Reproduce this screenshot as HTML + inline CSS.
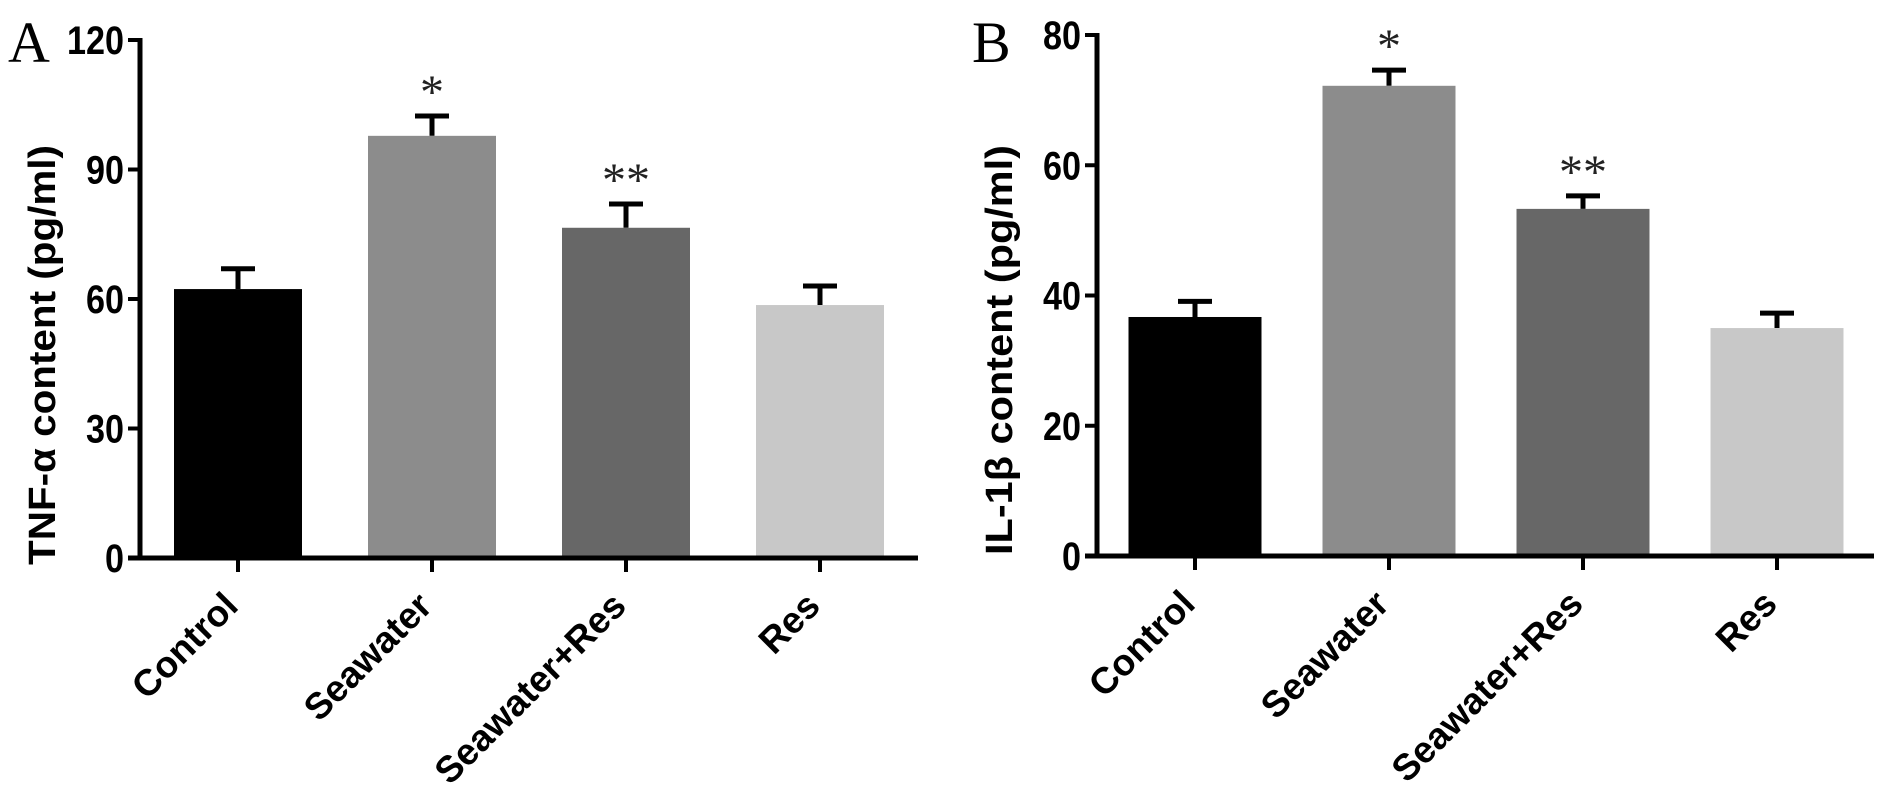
<!DOCTYPE html>
<html><head><meta charset="utf-8"><style>
html,body{margin:0;padding:0;background:#fff;}
svg{display:block;}
</style></head><body>
<svg id="chart" width="1890" height="801" viewBox="0 0 1890 801" xmlns="http://www.w3.org/2000/svg" font-family="Liberation Sans, Arial, sans-serif"></svg>
<script>
const categories = ["Control","Seawater","Seawater+Res","Res"];
const tnfValues = [62.3, 97.8, 76.5, 58.6];
const tnfErrors = [4.7, 4.6, 5.5, 4.4];
const tnfStars = ["", "*", "**", ""];
const tnfTicks = [0,30,60,90,120];
const ilValues = [36.7, 72.2, 53.3, 35.0];
const ilErrors = [2.4, 2.4, 2.0, 2.3];
const ilStars = ["", "*", "**", ""];
const ilTicks = [0,20,40,60,80];
const barColors = ["#000000","#8c8c8c","#676767","#c8c8c8"];

const NS="http://www.w3.org/2000/svg";
const svg=document.getElementById('chart');
function mk(tag,attrs,parent){const e=document.createElementNS(NS,tag);for(const k in attrs)e.setAttribute(k,attrs[k]);(parent||svg).appendChild(e);return e;}

function panel(cfg){
  const g=mk('g',{});
  
  
  const y=v=>cfg.y0-(v/cfg.max)*(cfg.y0-cfg.yTop);
  const x=i=>cfg.firstCenter+i*cfg.step;
  cfg.values.forEach((v,i)=>{
    const eb=mk('line',{x1:x(i),x2:x(i),y1:y(v),y2:y(v+cfg.errors[i]),stroke:'#000','stroke-width':5},g);
    
    
    const cap=mk('line',{x1:x(i)-17,x2:x(i)+17,y1:y(v+cfg.errors[i]),y2:y(v+cfg.errors[i]),stroke:'#000','stroke-width':5},g);
    
    
    const r=mk('rect',{x:x(i)-cfg.bw/2,y:y(v),width:cfg.bw,height:cfg.y0-y(v),fill:barColors[i]},g);
    
    
    if(cfg.stars[i]){
      const s=mk('text',{x:x(i),y:y(v+cfg.errors[i])-8,'text-anchor':'middle','font-size':48,fill:'#222','font-family':'Liberation Serif, serif'},g);
      s.textContent=cfg.stars[i];
      
      
    }
    const t=mk('line',{x1:x(i),x2:x(i),y1:cfg.y0,y2:cfg.y0+14,stroke:'#000','stroke-width':4},g);
    
    
    const lb=mk('text',{x:0,y:0,'text-anchor':'end','font-size':37,'font-weight':'bold',transform:`translate(${x(i)+2},${cfg.y0+50}) rotate(-45)`},g);
    lb.textContent=categories[i];
    
    
  });
  const ya=mk('line',{x1:cfg.ax,x2:cfg.ax,y1:cfg.yTop-2,y2:cfg.y0+2,stroke:'#000','stroke-width':5},g);
  
  
  const xa=mk('line',{x1:cfg.ax-12,x2:cfg.axEnd,y1:cfg.y0,y2:cfg.y0,stroke:'#000','stroke-width':5},g);
  
  
  cfg.ticks.forEach(tv=>{
    const tl=mk('line',{x1:cfg.ax-12,x2:cfg.ax,y1:y(tv),y2:y(tv),stroke:'#000','stroke-width':4},g);
    
    
    const tt=mk('text',{x:cfg.ax-16,y:y(tv)+14,'text-anchor':'end','font-size':40,'font-weight':'bold',textLength:String(tv).length*19,lengthAdjust:'spacingAndGlyphs'},g);
    tt.textContent=tv;
    
    
  });
  const yt=mk('text',{x:0,y:0,'text-anchor':'middle','font-size':38,'font-weight':'bold',textLength:cfg.titleLen,lengthAdjust:'spacingAndGlyphs',transform:`translate(${cfg.titleX},${cfg.titleY}) rotate(-90)`},g);
  yt.textContent=cfg.title;
  
  
  const pl=mk('text',{x:cfg.letterX,y:62,'font-size':58,'font-family':'Liberation Serif, serif'},g);
  pl.textContent=cfg.letter;
  
  
}

panel({name:'panel-a-tnf',values:tnfValues,errors:tnfErrors,stars:tnfStars,ticks:tnfTicks,max:120,
  y0:558,yTop:40,ax:140,axEnd:918,firstCenter:238,step:194,bw:128,
  title:'TNF-α content (pg/ml)',titleX:55,titleY:355,titleLen:420,letter:'A',letterX:8});
panel({name:'panel-b-il1b',values:ilValues,errors:ilErrors,stars:ilStars,ticks:ilTicks,max:80,
  y0:556,yTop:35,ax:1097,axEnd:1874,firstCenter:1195,step:194,bw:133,
  title:'IL-1β content (pg/ml)',titleX:1012,titleY:350,titleLen:410,letter:'B',letterX:972});
</script>
</body></html>
